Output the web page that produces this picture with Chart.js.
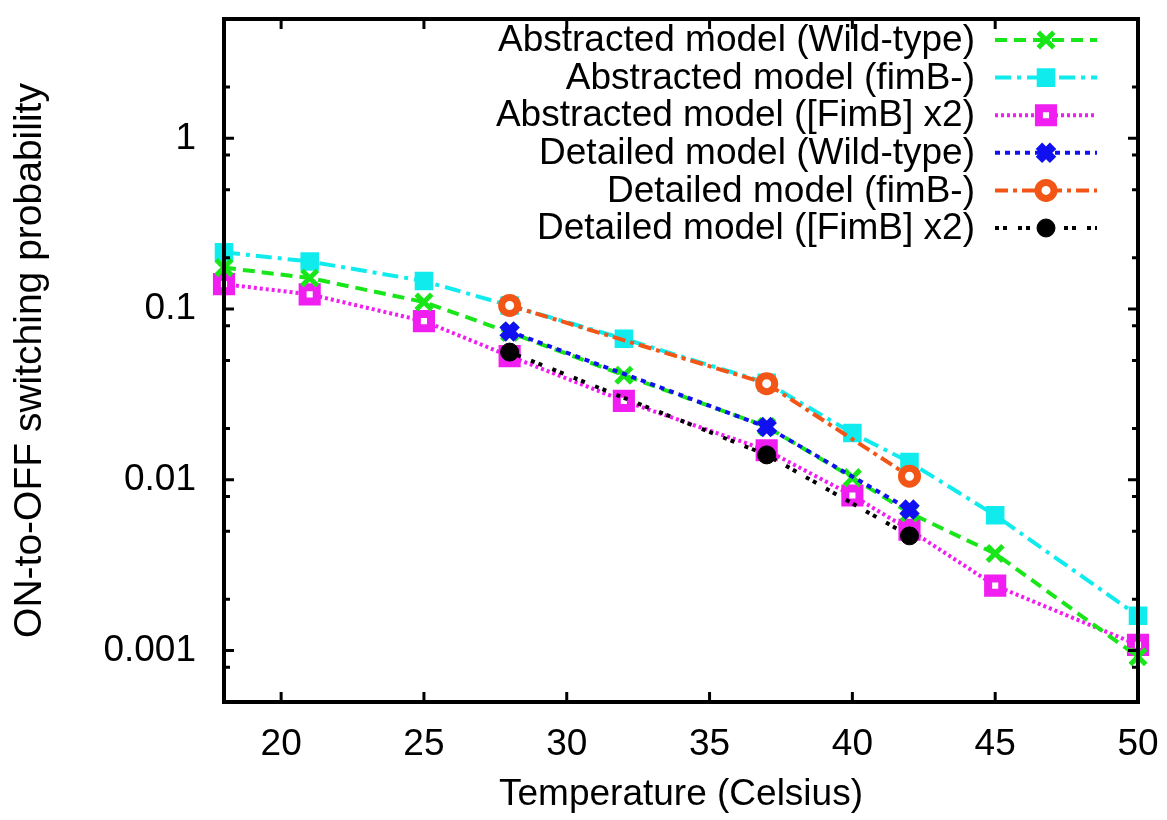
<!DOCTYPE html>
<html>
<head>
<meta charset="utf-8">
<script src="https://cdn.jsdelivr.net/npm/chart.js"></script>
<style>
  html, body { margin: 0; padding: 0; background: #fff; }
  #wrap { width: 1167px; height: 820px; }
</style>
</head>
<body>
<div id="wrap"><canvas id="myChart" width="1167" height="820"></canvas></div>
<script>
// temperatures (Celsius)
const tempsAbstracted = [18, 21, 25, 28, 32, 37, 40, 42, 45, 50];
const tempsDetailed = [28, 37, 42];

// ON-to-OFF switching probability
const absWildType = [0.175, 0.152, 0.11, 0.073, 0.041, 0.0205, 0.0103, 0.0064, 0.0037, 0.00092];
const absFimBMinus = [0.215, 0.19, 0.146, 0.105, 0.067, 0.037, 0.0188, 0.0127, 0.0062, 0.0016];
const absFimBx2 = [0.14, 0.122, 0.085, 0.053, 0.029, 0.0149, 0.0081, 0.0051, 0.0024, 0.00108];
const detWildType = [0.074, 0.0204, 0.0067];
const detFimBMinus = [0.105, 0.0366, 0.0105];
const detFimBx2 = [0.056, 0.014, 0.0047];

const seriesLabels = [
  "Abstracted model (Wild-type)",
  "Abstracted model (fimB-)",
  "Abstracted model ([FimB] x2)",
  "Detailed model (Wild-type)",
  "Detailed model (fimB-)",
  "Detailed model ([FimB] x2)",
];

const xTicks = [20, 25, 30, 35, 40, 45, 50];
const yTicks = [1, 0.1, 0.01, 0.001];
const yMinorTicks = [2, 0.8, 0.5, 0.2, 0.08, 0.05, 0.02, 0.008, 0.005, 0.002, 0.0008];

const FONT = '"Liberation Sans", Arial, Helvetica, sans-serif';

function pts(xs, ys) {
  return xs.map((x, i) => ({ x: x, y: ys[i] }));
}

const datasets = [
  {
    label: seriesLabels[0], data: pts(tempsAbstracted, absWildType), order: 2,
    borderColor: "#19e619", backgroundColor: "#19e619", borderDash: [12, 7],
    pointStyle: "crossRot", pointRadius: 11, pointBorderWidth: 5,
  },
  {
    label: seriesLabels[1], data: pts(tempsAbstracted, absFimBMinus), order: 2,
    borderColor: "#10ecee", backgroundColor: "#10ecee", borderDash: [16, 6, 4, 6],
    pointStyle: "rect", pointRadius: 11, pointBorderWidth: 3,
  },
  {
    label: seriesLabels[2], data: pts(tempsAbstracted, absFimBx2), order: 2,
    borderColor: "#f01ef0", backgroundColor: "#ffffff", borderDash: [3, 3],
    pointStyle: "rect", pointRadius: 10, pointBorderWidth: 8,
  },
  {
    label: seriesLabels[3], data: pts(tempsDetailed, detWildType), order: 1,
    borderColor: "#1010f0", backgroundColor: "#1010f0", borderDash: [5, 5],
    pointStyle: "crossRot", pointRadius: 10, pointBorderWidth: 9,
  },
  {
    label: seriesLabels[4], data: pts(tempsDetailed, detFimBMinus), order: 1,
    borderColor: "#f25515", backgroundColor: "#ffffff", borderDash: [13, 5, 4, 5],
    pointStyle: "circle", pointRadius: 8, pointBorderWidth: 7,
  },
  {
    label: seriesLabels[5], data: pts(tempsDetailed, detFimBx2), order: 1,
    borderColor: "#000000", backgroundColor: "#000000", borderDash: [4, 4, 4, 11],
    pointStyle: "circle", pointRadius: 9, pointBorderWidth: 1,
  },
];
datasets.forEach(d => {
  d.borderWidth = 4;
  d.pointBackgroundColor = d.backgroundColor;
  d.pointBorderColor = d.borderColor;
  d.fill = false;
  d.tension = 0;
  d.clip = false;
});

// frame, inward ticks and the gnuplot-style key
const framePlugin = {
  id: "frame",
  afterDraw(chart) {
    const ctx = chart.ctx;
    const a = chart.chartArea;
    const xs = chart.scales.x;
    const ys = chart.scales.y;
    ctx.save();
    ctx.strokeStyle = "#000";
    ctx.setLineDash([]);
    ctx.lineWidth = 3;
    ctx.beginPath();
    xTicks.forEach(v => {
      const px = xs.getPixelForValue(v);
      ctx.moveTo(px, a.bottom); ctx.lineTo(px, a.bottom - 10);
      ctx.moveTo(px, a.top); ctx.lineTo(px, a.top + 10);
    });
    yTicks.forEach(v => {
      const py = ys.getPixelForValue(v);
      ctx.moveTo(a.left, py); ctx.lineTo(a.left + 10, py);
      ctx.moveTo(a.right, py); ctx.lineTo(a.right - 10, py);
    });
    yMinorTicks.forEach(v => {
      const py = ys.getPixelForValue(v);
      ctx.moveTo(a.left, py); ctx.lineTo(a.left + 6, py);
      ctx.moveTo(a.right, py); ctx.lineTo(a.right - 6, py);
    });
    ctx.stroke();
    ctx.lineWidth = 4;
    ctx.strokeRect(a.left, a.top, a.right - a.left, a.bottom - a.top);

    // key
    ctx.font = "37px " + FONT;
    ctx.textAlign = "right";
    ctx.textBaseline = "middle";
    chart.data.datasets.forEach((d, i) => {
      const y = 40 + i * 37.6;
      ctx.fillStyle = "#000";
      ctx.fillText(d.label, 975, y + 1);
      ctx.strokeStyle = d.borderColor;
      ctx.lineWidth = d.borderWidth;
      ctx.setLineDash(d.borderDash);
      ctx.beginPath();
      ctx.moveTo(995, y); ctx.lineTo(1097, y);
      ctx.stroke();
      ctx.setLineDash([]);
      ctx.fillStyle = d.pointBackgroundColor;
      ctx.strokeStyle = d.pointBorderColor;
      ctx.lineWidth = d.pointBorderWidth;
      Chart.helpers.drawPoint(ctx, {
        pointStyle: d.pointStyle, radius: d.pointRadius,
        borderWidth: d.pointBorderWidth, rotation: 0,
      }, 1046, y);
    });
    ctx.restore();
  },
};

Chart.defaults.font.family = FONT;
Chart.defaults.color = "#000";

new Chart(document.getElementById("myChart"), {
  type: "line",
  data: { datasets: datasets },
  options: {
    responsive: false,
    animation: false,
    events: [],
    layout: { padding: { top: 12, right: 29, left: 0, bottom: 0 } },
    plugins: { legend: { display: false }, tooltip: { enabled: false } },
    scales: {
      x: {
        type: "linear", min: 18, max: 50,
        border: { display: false },
        grid: { display: false, drawTicks: false },
        afterBuildTicks: s => { s.ticks = xTicks.map(v => ({ value: v })); },
        afterFit: s => {
          s.height = 118;
          s.paddingLeft = 0; s.paddingRight = 0;
        },
        ticks: { font: { size: 37 }, padding: 21, maxRotation: 0, autoSkip: false },
        title: {
          display: true, text: "Temperature (Celsius)",
          font: { size: 37 }, padding: { top: 0, bottom: 3 },
        },
      },
      y: {
        type: "logarithmic", min: 0.0005, max: 5,
        border: { display: false },
        grid: { display: false, drawTicks: false },
        afterBuildTicks: s => { s.ticks = yTicks.map(v => ({ value: v })); },
        afterFit: s => {
          s.width = 224;
          s.paddingTop = 0; s.paddingBottom = 0;
        },
        ticks: { font: { size: 37 }, padding: 28, autoSkip: false, callback: v => String(v) },
        title: {
          display: true, text: "ON-to-OFF switching probability",
          font: { size: 39 }, padding: { top: 7, bottom: 0 },
        },
      },
    },
  },
  plugins: [framePlugin],
});
</script>
</body>
</html>
